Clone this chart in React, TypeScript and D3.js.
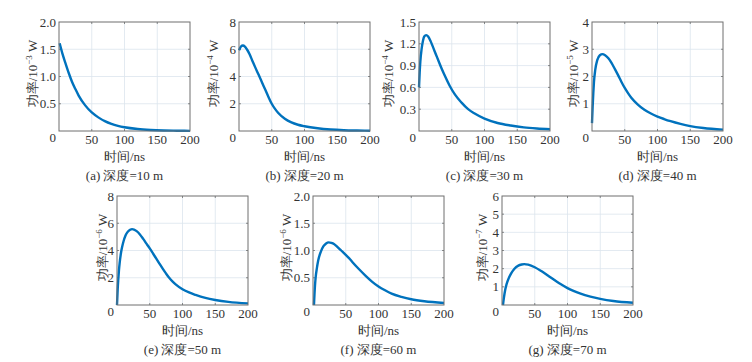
import * as d3 from 'd3'

// time axis samples (ns) and power
const timeA = [1, 5, 10, 15, 20, 25, 30, 40, 50, 60, 70, 80, 90, 100, 120, 140, 160, 180, 200]
const powerA = [1.61, 1.43, 1.24, 1.06, 0.9, 0.77, 0.65, 0.47, 0.34, 0.25, 0.18, 0.13, 0.094, 0.068, 0.036, 0.019, 0.01, 0.005, 0.003]

const timeB = [0, 3, 6, 9, 12, 16, 20, 25, 30, 35, 40, 45, 50, 55, 60, 70, 80, 90, 100, 120, 140, 160, 180, 200]
const powerB = [5.92, 6.2, 6.28, 6.2, 6.0, 5.65, 5.2, 4.65, 4.12, 3.58, 3.04, 2.5, 2.0, 1.62, 1.32, 0.9, 0.63, 0.46, 0.35, 0.2, 0.11, 0.06, 0.035, 0.02]

const timeC = [0, 1, 2, 4, 6, 8, 11, 14, 18, 22, 26, 30, 35, 40, 47, 55, 65, 75, 85, 100, 120, 140, 160, 180, 200]
const powerC = [0.6, 0.8, 0.95, 1.13, 1.24, 1.3, 1.32, 1.3, 1.23, 1.14, 1.05, 0.96, 0.85, 0.75, 0.62, 0.5, 0.39, 0.3, 0.24, 0.17, 0.11, 0.075, 0.05, 0.035, 0.025]

const timeD = [0, 1, 2, 3, 5, 8, 12, 16, 20, 25, 30, 35, 40, 45, 50, 55, 60, 70, 80, 90, 100, 110, 120, 135, 150, 170, 200]
const powerD = [0.29, 0.9, 1.4, 1.8, 2.25, 2.6, 2.78, 2.82, 2.78, 2.67, 2.49, 2.27, 2.04, 1.8, 1.58, 1.39, 1.22, 0.97, 0.78, 0.64, 0.53, 0.44, 0.36, 0.26, 0.18, 0.11, 0.05]

const timeE = [0, 1, 2, 3, 4, 6, 8, 10, 13, 16, 20, 23, 26, 30, 35, 40, 45, 50, 55, 60, 65, 70, 75, 80, 85, 90, 100, 110, 120, 135, 150, 170, 200]
const powerE = [0, 1.1, 1.9, 2.55, 3.05, 3.8, 4.3, 4.68, 5.1, 5.35, 5.52, 5.57, 5.54, 5.42, 5.18, 4.85, 4.5, 4.15, 3.78, 3.4, 3.02, 2.65, 2.3, 1.98, 1.72, 1.5, 1.16, 0.92, 0.74, 0.52, 0.37, 0.23, 0.12]

const timeF = [1.5, 3, 4, 6, 8, 12, 16, 20, 24, 28, 32, 36, 43, 50, 55, 60, 70, 80, 90, 100, 110, 120, 135, 150, 170, 200]
const powerF = [0, 0.35, 0.5, 0.68, 0.82, 0.98, 1.08, 1.13, 1.15, 1.14, 1.12, 1.08, 1.0, 0.92, 0.86, 0.79, 0.66, 0.54, 0.43, 0.34, 0.27, 0.21, 0.15, 0.105, 0.068, 0.038]

const timeG = [1.5, 3, 5, 7, 10, 14, 19, 25, 30, 34, 40, 50, 60, 70, 80, 90, 100, 110, 120, 135, 150, 170, 200]
const powerG = [0, 0.42, 0.85, 1.15, 1.45, 1.74, 2.0, 2.17, 2.23, 2.25, 2.22, 2.08, 1.87, 1.63, 1.38, 1.14, 0.93, 0.76, 0.62, 0.46, 0.34, 0.22, 0.12]

const xTicks = [50, 100, 150, 200]
const yTicksA = [0.5, 1.0, 1.5, 2.0]
const yTicksB = [2, 4, 6, 8]
const yTicksC = [0.3, 0.6, 0.9, 1.2, 1.5]
const yTicksD = [1, 2, 3, 4]
const yTicksE = [2, 4, 6, 8]
const yTicksF = [0.5, 1.0, 1.5, 2.0]
const yTicksG = [1, 2, 3, 4, 5, 6]

const exponents = ['−3', '−4', '−4', '−5', '−6', '−6', '−7']
const captions = ['(a) 深度=10 m', '(b) 深度=20 m', '(c) 深度=30 m', '(d) 深度=40 m', '(e) 深度=50 m', '(f) 深度=60 m', '(g) 深度=70 m']

// Latin glyphs from a Times-like face; CJK falls back to the system font
const FONT = "'Liberation Serif', 'Times New Roman', 'DejaVu Serif', serif"
const LINE = '#0072BD'
const GRID = '#dce5ed'
const FRAME = '#6f6f6f'
const TEXT = '#333'

const panels = [
  { t: timeA, p: powerA, yTicks: yTicksA, fmt: '.1f', left: 59, top: 22, labelOff: 27 },
  { t: timeB, p: powerB, yTicks: yTicksB, fmt: 'd', left: 239, top: 22, labelOff: 26 },
  { t: timeC, p: powerC, yTicks: yTicksC, fmt: '.1f', left: 419, top: 22, labelOff: 31 },
  { t: timeD, p: powerD, yTicks: yTicksD, fmt: 'd', left: 592, top: 22, labelOff: 19 },
  { t: timeE, p: powerE, yTicks: yTicksE, fmt: 'd', left: 117, top: 196, labelOff: 15 },
  { t: timeF, p: powerF, yTicks: yTicksF, fmt: '.1f', left: 313, top: 196, labelOff: 27 },
  { t: timeG, p: powerG, yTicks: yTicksG, fmt: 'd', left: 502, top: 196, labelOff: 20 },
]

const W = 131
const H = 109

function Panel({ cfg, idx }: { cfg: typeof panels[number]; idx: number }) {
  const yMax = cfg.yTicks[cfg.yTicks.length - 1]
  const x = d3.scaleLinear().domain([0, 200]).range([0, W])
  const y = d3.scaleLinear().domain([0, yMax]).range([H, 0])
  const pts = cfg.t.map((t, i) => [t, cfg.p[i]] as [number, number])
  const line = d3
    .line<[number, number]>()
    .x((d) => x(d[0]))
    .y((d) => y(d[1]))
    .curve(d3.curveMonotoneX)
  const fmt = d3.format(cfg.fmt)
  const gridX = xTicks.filter((v) => v < 200)
  const gridY = cfg.yTicks.filter((v) => v < yMax)

  return (
    <g transform={`translate(${cfg.left},${cfg.top})`} style={{ fontFamily: FONT }} fill={TEXT}>
      {/* grid */}
      {gridX.map((v) => (
        <line key={'gx' + v} x1={x(v)} x2={x(v)} y1={0} y2={H} stroke={GRID} strokeWidth={0.8} />
      ))}
      {gridY.map((v) => (
        <line key={'gy' + v} x1={0} x2={W} y1={y(v)} y2={y(v)} stroke={GRID} strokeWidth={0.8} />
      ))}

      {/* inward ticks */}
      {gridX.map((v) => (
        <g key={'tx' + v} stroke={FRAME} strokeWidth={0.8}>
          <line x1={x(v)} x2={x(v)} y1={H} y2={H - 2} />
          <line x1={x(v)} x2={x(v)} y1={0} y2={2} />
        </g>
      ))}
      {gridY.map((v) => (
        <g key={'ty' + v} stroke={FRAME} strokeWidth={0.8}>
          <line x1={0} x2={2} y1={y(v)} y2={y(v)} />
          <line x1={W} x2={W - 2} y1={y(v)} y2={y(v)} />
        </g>
      ))}

      <path d={line(pts) ?? ''} fill="none" stroke={LINE} strokeWidth={2.4} strokeLinejoin="round" />

      <rect x={0} y={0} width={W} height={H} fill="none" stroke={FRAME} strokeWidth={1} />

      {/* tick labels */}
      {xTicks.map((v) => (
        <text key={'lx' + v} x={x(v)} y={H + 13} textAnchor="middle" fontSize={13}>
          {v}
        </text>
      ))}
      <text x={-3} y={H + 11} textAnchor="end" fontSize={13}>0</text>
      {cfg.yTicks.map((v) => (
        <text key={'ly' + v} x={-3} y={y(v) + 4.5} textAnchor="end" fontSize={13}>
          {fmt(v)}
        </text>
      ))}

      {/* axis titles */}
      <text
        transform={`translate(${-cfg.labelOff},${H / 2 - 3}) rotate(-90)`}
        textAnchor="middle"
        fontSize={13}
        dy="0.35em"
      >
        功率/10
        <tspan fontSize={9} dy={-5}>{exponents[idx]}</tspan>
        <tspan dy={5}> W</tspan>
      </text>
      <text x={W / 2} y={H + 30} textAnchor="middle" fontSize={13}>
        时间/ns
      </text>
      <text x={W / 2} y={H + 49} textAnchor="middle" fontSize={13}>
        {captions[idx]}
      </text>
    </g>
  )
}

export default function App() {
  return (
    <svg
      width={752}
      height={362}
      style={{ position: 'absolute', left: 0, top: 0, background: '#fff' }}
    >
      <rect width={752} height={362} fill="#fff" />
      {panels.map((cfg, i) => (
        <Panel key={i} cfg={cfg} idx={i} />
      ))}
    </svg>
  )
}
